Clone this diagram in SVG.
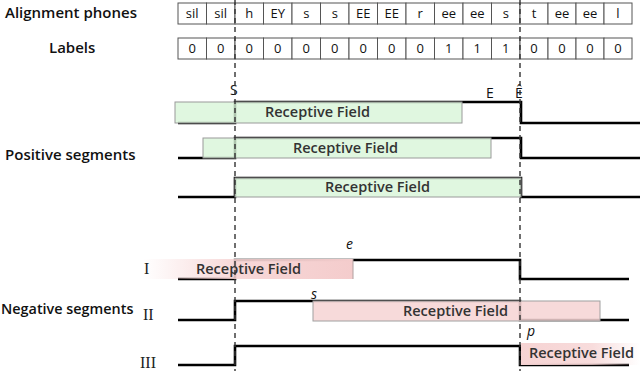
<svg xmlns="http://www.w3.org/2000/svg" width="640" height="371" viewBox="0 0 640 371">
<defs>
<style>
.lbl{font-family:"Open Sans","Noto Sans",sans-serif;font-weight:600;font-size:15px;fill:#111}
.cell{fill:#fff;stroke:#555;stroke-width:1}
.ct{font-family:"Open Sans","Noto Sans",sans-serif;font-size:13px;fill:#111;text-anchor:middle}
.wave{fill:none;stroke:#000;stroke-width:2.6;stroke-linejoin:miter}
.green{fill:#d8f5d8;fill-opacity:0.8;stroke:#9a9a9a;stroke-width:1}
.pink{fill:#f6d3d3;fill-opacity:0.85;stroke:#a0a0a0;stroke-width:1}
.rf{font-family:"Open Sans","Noto Sans",sans-serif;font-weight:600;font-size:14.5px;fill:#333}
.mk{font-family:"Open Sans","Noto Sans",sans-serif;font-size:14px;fill:#111}
.it{font-family:"Open Sans","Noto Sans",sans-serif;font-style:italic;font-size:14px;fill:#111}
.rom{font-family:"Liberation Serif",serif;font-size:16px;fill:#222}
.dash{stroke:#333;stroke-width:1.4;stroke-dasharray:5 4;fill:none}
</style>
<linearGradient id="fadeL" x1="143" y1="0" x2="353" y2="0" gradientUnits="userSpaceOnUse">
<stop offset="0" stop-color="#f6d3d3" stop-opacity="0"/>
<stop offset="0.45" stop-color="#f6d3d3" stop-opacity="0.9"/>
<stop offset="1" stop-color="#f4cccc" stop-opacity="1"/>
</linearGradient>
<linearGradient id="fadeR" x1="520" y1="0" x2="640" y2="0" gradientUnits="userSpaceOnUse">
<stop offset="0" stop-color="#f6d3d3" stop-opacity="1"/>
<stop offset="0.6" stop-color="#f6d3d3" stop-opacity="0.8"/>
<stop offset="1" stop-color="#f6d3d3" stop-opacity="0"/>
</linearGradient>
</defs>
<rect width="640" height="371" fill="#fff"/>

<g id="row-labels">
<text class="lbl" x="5" y="18">Alignment phones</text>
<text class="lbl" x="49" y="53">Labels</text>
<text class="lbl" x="5" y="160">Positive segments</text>
<text class="lbl" x="1" y="314" style="font-size:14.4px">Negative segments</text>
</g>

<g id="phones">
<rect class="cell" x="178" y="3" width="28.5" height="21"/>
<rect class="cell" x="206.5" y="3" width="28.5" height="21"/>
<rect class="cell" x="235" y="3" width="28.5" height="21"/>
<rect class="cell" x="263.5" y="3" width="28.5" height="21"/>
<rect class="cell" x="292" y="3" width="28.5" height="21"/>
<rect class="cell" x="320.5" y="3" width="28.5" height="21"/>
<rect class="cell" x="349" y="3" width="28.5" height="21"/>
<rect class="cell" x="377.5" y="3" width="28.5" height="21"/>
<rect class="cell" x="406" y="3" width="28.5" height="21"/>
<rect class="cell" x="434.5" y="3" width="28.5" height="21"/>
<rect class="cell" x="463" y="3" width="28.5" height="21"/>
<rect class="cell" x="491.5" y="3" width="28.5" height="21"/>
<rect class="cell" x="520" y="3" width="28" height="21"/>
<rect class="cell" x="548" y="3" width="28" height="21"/>
<rect class="cell" x="576" y="3" width="28" height="21"/>
<rect class="cell" x="604" y="3" width="28" height="21"/>
<text class="ct" x="192.25" y="18">sil</text>
<text class="ct" x="220.75" y="18">sil</text>
<text class="ct" x="249.25" y="18">h</text>
<text class="ct" x="277.75" y="18">EY</text>
<text class="ct" x="306.25" y="18">s</text>
<text class="ct" x="334.75" y="18">s</text>
<text class="ct" x="363.25" y="18">EE</text>
<text class="ct" x="391.75" y="18">EE</text>
<text class="ct" x="420.25" y="18">r</text>
<text class="ct" x="448.75" y="18">ee</text>
<text class="ct" x="477.25" y="18">ee</text>
<text class="ct" x="505.75" y="18">s</text>
<text class="ct" x="534" y="18">t</text>
<text class="ct" x="562" y="18">ee</text>
<text class="ct" x="590" y="18">ee</text>
<text class="ct" x="618" y="18">l</text>
</g>

<g id="labels">
<rect class="cell" x="178" y="38" width="28.5" height="21"/>
<rect class="cell" x="206.5" y="38" width="28.5" height="21"/>
<rect class="cell" x="235" y="38" width="28.5" height="21"/>
<rect class="cell" x="263.5" y="38" width="28.5" height="21"/>
<rect class="cell" x="292" y="38" width="28.5" height="21"/>
<rect class="cell" x="320.5" y="38" width="28.5" height="21"/>
<rect class="cell" x="349" y="38" width="28.5" height="21"/>
<rect class="cell" x="377.5" y="38" width="28.5" height="21"/>
<rect class="cell" x="406" y="38" width="28.5" height="21"/>
<rect class="cell" x="434.5" y="38" width="28.5" height="21"/>
<rect class="cell" x="463" y="38" width="28.5" height="21"/>
<rect class="cell" x="491.5" y="38" width="28.5" height="21"/>
<rect class="cell" x="520" y="38" width="28" height="21"/>
<rect class="cell" x="548" y="38" width="28" height="21"/>
<rect class="cell" x="576" y="38" width="28" height="21"/>
<rect class="cell" x="604" y="38" width="28" height="21"/>
<text class="ct" x="192.25" y="53">0</text>
<text class="ct" x="220.75" y="53">0</text>
<text class="ct" x="249.25" y="53">0</text>
<text class="ct" x="277.75" y="53">0</text>
<text class="ct" x="306.25" y="53">0</text>
<text class="ct" x="334.75" y="53">0</text>
<text class="ct" x="363.25" y="53">0</text>
<text class="ct" x="391.75" y="53">0</text>
<text class="ct" x="420.25" y="53">0</text>
<text class="ct" x="448.75" y="53">1</text>
<text class="ct" x="477.25" y="53">1</text>
<text class="ct" x="505.75" y="53">1</text>
<text class="ct" x="534" y="53">0</text>
<text class="ct" x="562" y="53">0</text>
<text class="ct" x="590" y="53">0</text>
<text class="ct" x="618" y="53">0</text>
</g>

<g id="waveforms">
<path class="wave" d="M178 123 H235 V102 H521 V123 H640"/>
<path class="wave" d="M178 158 H235 V138 H521 V158 H640"/>
<path class="wave" d="M178 197 H235 V178 H521 V197 H640"/>
<path class="wave" d="M178 279 H235 V260 H520 V279 H629"/>
<path class="wave" d="M178 320 H235 V301 H520 V320 H629"/>
<path class="wave" d="M178 365 H235 V346 H520 V365 H629"/>
</g>

<g id="pos1">
<rect class="green" x="175" y="102" width="287" height="21"/>
<text class="rf" x="265" y="117">Receptive Field</text>
</g>
<g id="pos2">
<rect class="green" x="203" y="138" width="288" height="20"/>
<text class="rf" x="293" y="153">Receptive Field</text>
</g>
<g id="pos3">
<rect class="green" x="235" y="178" width="286" height="19"/>
<text class="rf" x="325" y="192">Receptive Field</text>
</g>

<g id="negI">
<rect x="143" y="259" width="210" height="20" fill="url(#fadeL)"/>
<line x1="353" y1="259" x2="353" y2="279" stroke="#b0a0a0" stroke-width="1"/>
<text class="rf" x="196" y="274">Receptive Field</text>
</g>
<g id="negII">
<rect class="pink" x="313" y="301" width="287" height="20"/>
<text class="rf" x="403" y="316">Receptive Field</text>
</g>
<g id="negIII">
<rect x="521" y="343" width="119" height="22" fill="url(#fadeR)"/>
<text class="rf" x="529" y="358">Receptive Field</text>
</g>

<g id="markers">
<text class="mk" x="230" y="95">S</text>
<text class="mk" x="486" y="98">E</text>
<text class="mk" x="515" y="98">Ê</text>
<text class="it" x="346" y="249">e</text>
<text class="it" x="311" y="299">s</text>
<text class="it" x="527" y="336">p</text>
<text class="rom" x="144" y="274">I</text>
<text class="rom" x="143" y="320">II</text>
<text class="rom" x="140" y="368">III</text>
</g>

<g id="connectors">
<line class="dash" x1="235" y1="0" x2="235" y2="371"/>
<line class="dash" x1="520" y1="0" x2="520" y2="371"/>
</g>
</svg>
